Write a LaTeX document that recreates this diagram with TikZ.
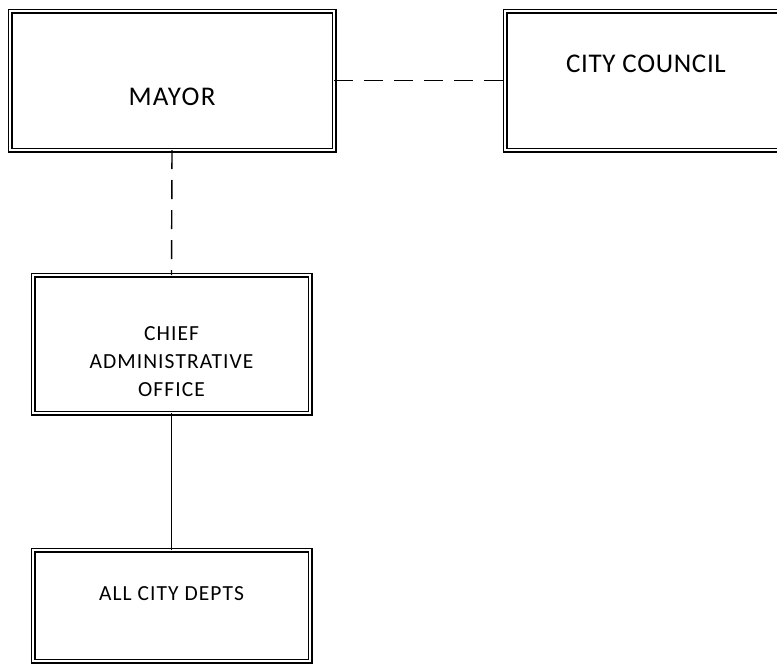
\documentclass[tikz,border=0pt]{standalone}
\usepackage{fontspec}
\setmainfont{Carlito}
\begin{document}
\begin{tikzpicture}[x=1pt,y=-1pt,
  orgbox/.style={draw=black, double=white, double distance=2.8pt, line width=1.1pt, rectangle, inner sep=0pt, outer sep=0pt},
  bigtxt/.style={font=\fontsize{27}{32}\selectfont\addfontfeature{LetterSpace=5}, inner sep=0pt},
  smalltxt/.style={font=\fontsize{21.5}{28}\selectfont\addfontfeature{LetterSpace=5}, inner sep=0pt, align=center},
  dashlink/.style={line width=1.4pt, dash pattern=on 19pt off 11pt},
  solidlink/.style={line width=1.3pt}]
\useasboundingbox (0,0) rectangle (777,664);
\fill[white] (0,0) rectangle (777,664);
\clip (0,0) rectangle (777,664);
\node[orgbox, minimum width=324pt, minimum height=139pt] (mayor) at (172,80.5) {};
\node[orgbox, minimum width=314pt, minimum height=139pt] (council) at (662,80.5) {};
\node[orgbox, minimum width=277pt, minimum height=138pt] (cao) at (171.5,344) {};
\node[orgbox, minimum width=277pt, minimum height=111pt] (depts) at (171.5,605.5) {};
\node[bigtxt] (mayortxt) at (172,97) {MAYOR};
\node[bigtxt, font=\fontsize{27}{32}\selectfont\addfontfeature{LetterSpace=2.5}] (counciltxt) at (646,63.5) {CITY COUNCIL};
\node[smalltxt] (caotxt) at (171.5,362) {CHIEF\\ADMINISTRATIVE\\OFFICE};
\node[smalltxt] (deptstxt) at (171.5,594) {ALL CITY DEPTS};
\draw[dashlink] (mayor.east) -- (council.west);
\draw[dashlink] (mayor.south) -- (cao.north);
\draw[solidlink] (cao.south) -- (depts.north);
\end{tikzpicture}
\end{document}
